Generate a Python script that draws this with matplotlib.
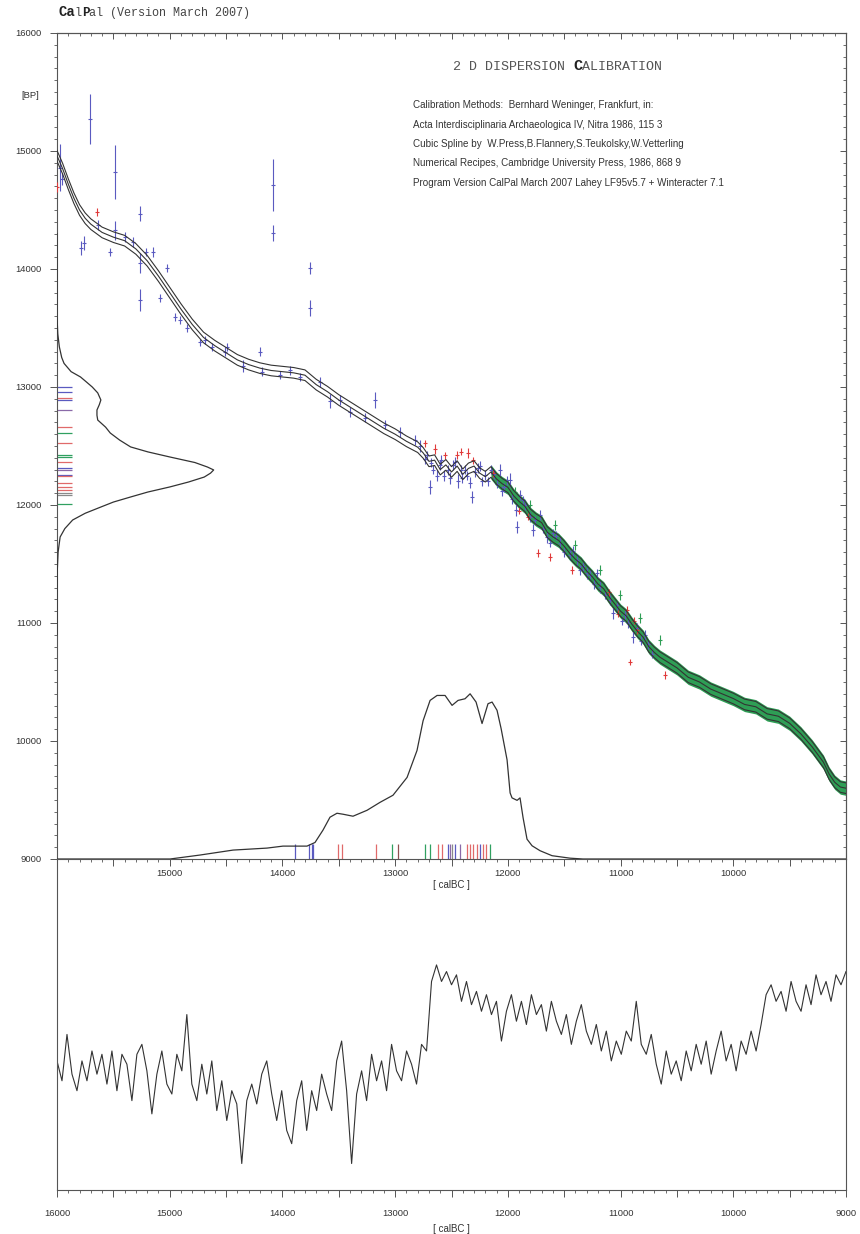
import numpy as np
import matplotlib
matplotlib.use("Agg")
import matplotlib.pyplot as plt
from matplotlib.ticker import MultipleLocator, FuncFormatter

plt.rcParams['font.family'] = ['Liberation Sans', 'DejaVu Sans']

# calibration curve: calBC -> 14C age BP
curve_bc = [16000, 15950, 15900, 15850, 15800, 15750, 15700, 15600, 15500, 15400,
            15300, 15200, 15100, 15000, 14900, 14800, 14700, 14600, 14500, 14400,
            14300, 14200, 14100, 14000, 13900, 13800, 13700, 13600, 13500, 13400,
            13300, 13200, 13100, 13000, 12900, 12800, 12750, 12700, 12650, 12600,
            12550, 12500, 12450, 12400, 12350, 12300, 12250, 12200, 12150, 12100,
            12050, 12000, 11950, 11900, 11850, 11800, 11750, 11700, 11650, 11600,
            11550, 11500, 11450, 11400, 11350, 11300, 11250, 11200, 11150, 11100,
            11050, 11000, 10950, 10900, 10850, 10800, 10750, 10700, 10650, 10600,
            10550, 10500, 10400, 10300, 10200, 10100, 10000, 9900, 9800, 9700,
            9600, 9500, 9400, 9300, 9200, 9150, 9100, 9050, 9000]
curve_bp = [14960, 14850, 14720, 14600, 14500, 14430, 14380, 14310, 14270, 14240,
            14170, 14070, 13940, 13800, 13660, 13530, 13420, 13350, 13290, 13230,
            13190, 13160, 13140, 13130, 13120, 13100, 13020, 12960, 12890, 12830,
            12770, 12710, 12650, 12600, 12540, 12490, 12440, 12370, 12380, 12300,
            12340, 12280, 12330, 12260, 12310, 12330, 12270, 12240, 12280, 12220,
            12180, 12150, 12080, 12030, 11990, 11920, 11880, 11850, 11770, 11730,
            11700, 11650, 11590, 11540, 11500, 11440, 11390, 11330, 11290, 11220,
            11160, 11100, 11060, 10990, 10930, 10880, 10800, 10750, 10710, 10680,
            10650, 10620, 10540, 10500, 10440, 10400, 10360, 10310, 10290, 10230,
            10210, 10150, 10060, 9950, 9820, 9720, 9650, 9610, 9600]
curve_sigma = 45

# calibration data (calBC, BP, 1 sigma)
blue_pts = [(15975, 14860, 200), (15955, 14760, 50), (15790, 14180, 60), (15760, 14220, 60),
            (15707, 15270, 210), (15640, 14373, 40), (15485, 14820, 230), (15485, 14330, 80),
            (15530, 14144, 30), (15397, 14271, 40), (15326, 14229, 40), (15264, 14050, 85),
            (15264, 13737, 90), (15264, 14470, 60), (15210, 14144, 30), (15148, 14144, 40),
            (15024, 14008, 35), (15086, 13754, 30), (14953, 13593, 30), (14909, 13568, 30),
            (14847, 13500, 30), (14731, 13381, 30), (14687, 13398, 30), (14625, 13339, 30),
            (14492, 13339, 30), (14509, 13300, 40), (14350, 13180, 50), (14200, 13300, 40),
            (14180, 13130, 40), (14083, 14712, 220), (14083, 14305, 70), (14021, 13100, 35),
            (13933, 13140, 35), (13844, 13085, 35), (13755, 14008, 50), (13755, 13669, 70),
            (13666, 13042, 40), (13578, 12880, 60), (13490, 12890, 40), (13400, 12790, 40),
            (13267, 12740, 40), (13180, 12890, 70), (13090, 12680, 40), (12957, 12620, 40),
            (12824, 12550, 40), (12780, 12500, 50), (12735, 12390, 40), (12690, 12152, 60),
            (12660, 12300, 40), (12602, 12339, 40), (12570, 12250, 50), (12531, 12296, 40),
            (12469, 12364, 40), (12440, 12200, 60), (12406, 12229, 40), (12380, 12300, 40),
            (12318, 12068, 50), (12264, 12313, 40), (12230, 12200, 40), (12202, 12254, 40),
            (12150, 12300, 40), (12100, 12180, 40), (12069, 12296, 50), (12030, 12150, 40),
            (11980, 12212, 60), (11918, 11813, 50), (11892, 12085, 40), (11847, 12000, 40),
            (11800, 11900, 40), (11776, 11788, 50), (11714, 11915, 40), (11652, 11729, 50),
            (11600, 11760, 40), (11537, 11678, 50), (11448, 11576, 40), (11386, 11534, 50),
            (11330, 11480, 40), (11297, 11424, 50), (11271, 11407, 40), (11182, 11305, 50),
            (11093, 11195, 40), (11067, 11085, 50), (10960, 11068, 40), (10889, 10881, 50),
            (10783, 10898, 40), (10720, 10740, 40),
            (12720, 12420, 40), (12680, 12360, 40), (12630, 12250, 50), (12590, 12380, 40),
            (12510, 12230, 50), (12490, 12340, 40), (12420, 12300, 40), (12360, 12250, 40),
            (12340, 12190, 50), (12290, 12280, 40), (12250, 12330, 40), (12180, 12200, 40),
            (12120, 12260, 40), (12050, 12120, 40), (12010, 12210, 40), (11960, 12050, 40),
            (11930, 11960, 50), (11870, 12040, 40), (11760, 11870, 40), (11690, 11800, 40),
            (11630, 11680, 40), (11570, 11740, 40), (11500, 11600, 40), (11420, 11610, 40),
            (11360, 11450, 40), (11240, 11330, 40), (11210, 11420, 40), (11140, 11240, 40),
            (11030, 11150, 40), (10990, 11020, 40), (10930, 11000, 40), (10850, 10960, 40),
            (10820, 10850, 40), (10760, 10820, 40)]
red_pts = [(16000, 14695, 40), (15645, 14483, 30), (12735, 12525, 30), (12646, 12474, 40),
           (12451, 12424, 30), (12353, 12441, 40), (12309, 12381, 30), (12131, 12271, 30),
           (11732, 11593, 30), (11626, 11559, 30), (11430, 11449, 30), (10942, 11110, 30),
           (10854, 10940, 30), (10916, 10669, 25), (10605, 10559, 30), (11900, 11950, 30),
           (11100, 11260, 30), (12560, 12420, 30), (12420, 12450, 30), (11820, 11900, 30),
           (11020, 11080, 30), (10880, 11020, 30)]
green_pts = [(11936, 12110, 40), (11803, 12000, 40), (11581, 11830, 40), (11404, 11661, 40),
             (11182, 11449, 40), (11004, 11237, 40), (10827, 11042, 40), (10649, 10856, 40)]
green_from = 12150  # dense dendro data from here on

# sample 14C ages (BP) and calibrated positions (calBC)
sample_bp = [13003, 12955, 12910, 12890, 12805, 12658, 12607, 12528, 12424, 12404, 12367,
             12311, 12297, 12254, 12246, 12184, 12156, 12127, 12105, 12085, 12006]
sample_bp_col = ['b', 'b', 'r', 'b', 'p', 'r', 'g', 'r', 'g', 'g', 'r',
                 'b', 'p', 'b', 'r', 'r', 'r', 'r', 'k', 'k', 'g']
sample_bc = [13888, 13764, 13737, 13728, 13507, 13471, 13170, 13027, 12974, 12735, 12690,
             12619, 12584, 12531, 12513, 12495, 12468, 12424, 12362, 12335, 12309, 12273,
             12247, 12220, 12193, 12158]
sample_bc_col = ['b', 'b', 'b', 'b', 'r', 'r', 'r', 'g', 'n', 'g', 'g',
                 'r', 'r', 'b', 'p', 'k', 'b', 'p', 'r', 'r', 'r', 'r',
                 'b', 'r', 'r', 'g']
palette = {'b': '#5a5ac0', 'r': '#e06a6a', 'g': '#30a060', 'p': '#8a6aa8',
           'k': '#8a8a8a', 'n': '#905050'}

# summed 14C probability (along BP axis)
dens_bp = [14300, 13600, 13450, 13340, 13250, 13200, 13130, 13085, 13040, 13000, 12950,
           12890, 12850, 12805, 12760, 12720, 12660, 12610, 12550, 12492, 12450, 12407,
           12360, 12322, 12297, 12270, 12237, 12195, 12153, 12110, 12068, 12025, 11983,
           11930, 11873, 11800, 11729, 11600, 11449, 11200, 10900]
dens_bp_val = [0.0, 0.0, 0.005, 0.015, 0.03, 0.045, 0.09, 0.15, 0.19, 0.225, 0.26,
               0.28, 0.27, 0.255, 0.255, 0.26, 0.31, 0.34, 0.40, 0.47, 0.58, 0.72,
               0.88, 0.96, 1.0, 0.98, 0.94, 0.84, 0.72, 0.58, 0.47, 0.36, 0.28,
               0.18, 0.10, 0.05, 0.02, 0.007, 0.002, 0.0, 0.0]
# calibrated probability (along calBC axis)
dens_bc = [16000, 14997, 14731, 14438, 14137, 13995, 13782, 13711, 13640, 13578, 13516,
           13462, 13374, 13249, 13134, 13019, 12894, 12806, 12752, 12690, 12628, 12557,
           12495, 12442, 12380, 12335, 12282, 12229, 12176, 12140, 12096, 12060, 12007,
           11980, 11963, 11918, 11892, 11865, 11830, 11785, 11714, 11608, 11448, 11333, 9000]
dens_bc_val = [0.0, 0.0, 0.024, 0.054, 0.066, 0.078, 0.078, 0.10, 0.175, 0.253, 0.277,
               0.271, 0.259, 0.295, 0.343, 0.386, 0.494, 0.657, 0.837, 0.96, 0.99, 0.99,
               0.93, 0.96, 0.97, 1.0, 0.95, 0.82, 0.94, 0.95, 0.90, 0.79, 0.60,
               0.40, 0.37, 0.355, 0.37, 0.25, 0.12, 0.08, 0.05, 0.02, 0.005, 0.0, 0.0]

# lower panel signal (arbitrary units), evenly spaced 16000 -> 9000 calBC
signal = [39, 33, 47, 35, 30, 39, 33, 42, 35, 41, 32, 42, 30, 41, 38, 27, 41, 44, 36, 23,
          35, 42, 32, 29, 41, 36, 53, 32, 27, 38, 29, 39, 24, 33, 21, 30, 26, 8, 27, 32,
          26, 35, 39, 29, 21, 30, 18, 14, 27, 33, 18, 30, 24, 35, 29, 24, 39, 45, 30, 8,
          29, 36, 27, 41, 33, 39, 30, 44, 36, 33, 42, 38, 32, 44, 42, 63, 68, 63, 66, 62,
          65, 57, 63, 56, 60, 54, 59, 53, 57, 45, 54, 59, 51, 57, 50, 59, 53, 56, 48, 57,
          51, 47, 53, 44, 51, 56, 48, 44, 50, 42, 48, 39, 45, 41, 48, 45, 57, 44, 41, 47,
          38, 32, 42, 35, 39, 33, 42, 36, 44, 38, 45, 35, 42, 48, 39, 44, 36, 45, 41, 48,
          42, 50, 59, 62, 57, 60, 54, 63, 57, 54, 62, 56, 65, 59, 63, 57, 65, 62, 66]
signal_bc = np.linspace(16000, 9000, len(signal))

line_col = '#333333'
axis_col = '#555555'
text_col = '#333333'

fig = plt.figure(figsize=(8.6, 12.34), dpi=100)
W, H = 860, 1234
ax2 = fig.add_axes([57 / W, 1 - 1190 / H, 789 / W, 331 / H])
ax = fig.add_axes([57 / W, 1 - 859 / H, 789 / W, 826 / H])
ax.set_facecolor('none')
ax2.set_facecolor('none')

cbc = np.array(curve_bc)
cbp = np.array(curve_bp)
ax.fill_between(cbc, cbp - 1.35 * curve_sigma, cbp + 1.35 * curve_sigma,
                where=cbc <= green_from, color='#2e9e55', lw=0, zorder=2)
for pts, col in [(blue_pts, palette['b']), (red_pts, '#e03a3a'), (green_pts, '#2e9e55')]:
    a = np.array(pts, dtype=float)
    ax.errorbar(a[:, 0], a[:, 1], yerr=a[:, 2], fmt='_', ms=3, mew=0.8,
                color=col, ecolor=col, elinewidth=0.8, capsize=0, zorder=3)
for off in (-curve_sigma, 0, curve_sigma):
    ax.plot(cbc, cbp + off, color=line_col, lw=0.8, zorder=4)

# probability curves
ax.plot(16000 - np.array(dens_bp_val) * 1390, dens_bp, color=line_col, lw=0.9, zorder=4)
ax.plot(dens_bc, 9000 + np.array(dens_bc_val) * 1400, color=line_col, lw=0.9, zorder=4)
ax.hlines(sample_bp, 16000, 16000 - 135, colors=[palette[c] for c in sample_bp_col], lw=0.9)
ax.vlines(sample_bc, 9000, 9130, colors=[palette[c] for c in sample_bc_col], lw=0.9)

ax.set_xlim(16000, 9000)
ax.set_ylim(9000, 16000)
ax.xaxis.set_major_locator(MultipleLocator(500))
ax.xaxis.set_minor_locator(MultipleLocator(100))
ax.xaxis.set_major_formatter(FuncFormatter(
    lambda v, p: f"{int(v)}" if v % 1000 == 0 and 9000 < v < 16000 else ""))
ax.yaxis.set_major_locator(MultipleLocator(1000))
ax.yaxis.set_minor_locator(MultipleLocator(100))
ax.tick_params(axis='both', which='major', length=5, width=0.7, color=axis_col,
               labelsize=6.8, labelcolor=text_col)
ax.tick_params(axis='both', which='minor', length=2.5, width=0.6, color=axis_col)
ax.tick_params(axis='x', direction='out', pad=2.5)
ax.tick_params(axis='y', direction='out', pad=6)
for side in ('top', 'right'):
    sec = ax.secondary_xaxis('top') if side == 'top' else ax.secondary_yaxis('right')
    axis = sec.xaxis if side == 'top' else sec.yaxis
    axis.set_major_locator(MultipleLocator(500 if side == 'top' else 1000))
    axis.set_minor_locator(MultipleLocator(100))
    sec.tick_params(which='major', direction='in', length=4, width=0.7, color=axis_col,
                    labeltop=False, labelright=False)
    sec.tick_params(which='minor', direction='in', length=2.5, width=0.6, color=axis_col)
    sec.spines[side].set_color(axis_col)
for s in ax.spines.values():
    s.set_color(axis_col)
    s.set_linewidth(0.8)
ax.set_xlabel('[ calBC ]', fontsize=7, color=text_col, labelpad=1)
fig.text(30 / W, 1 - 95 / H, '[BP]', fontsize=6.8, color=text_col, ha='center', va='center')

# lower panel
ax2.plot(signal_bc, signal, color=line_col, lw=0.8)
ax2.set_xlim(16000, 9000)
ax2.set_ylim(0, 100)
ax2.xaxis.set_major_locator(MultipleLocator(500))
ax2.xaxis.set_minor_locator(MultipleLocator(100))
ax2.xaxis.set_major_formatter(FuncFormatter(lambda v, p: f"{int(v)}" if v % 1000 == 0 else ""))
ax2.set_yticks([])
ax2.tick_params(axis='x', which='major', direction='out', length=5, width=0.7, color=axis_col,
                labelsize=6.8, labelcolor=text_col, pad=9)
ax2.tick_params(axis='x', which='minor', direction='out', length=2.5, width=0.6, color=axis_col)
ax2.spines['top'].set_visible(False)
for s in ('left', 'right', 'bottom'):
    ax2.spines[s].set_color(axis_col)
    ax2.spines[s].set_linewidth(0.8)
ax2.set_xlabel('[ calBC ]', fontsize=7, color=text_col, labelpad=4)

# header texts
mono = 'Liberation Mono'
t = fig.text(58 / W, 1 - 16 / H, 'Ca', family=mono, fontweight='bold', fontsize=10,
             color='#222222', va='baseline')
for s, bold, size in [('l', False, 8.5), ('P', True, 9), ('al (Version March 2007)', False, 8.5)]:
    t = ax.annotate(s, xy=(1, 0), xycoords=t, va='bottom', ha='left', family=mono,
                    fontsize=size, fontweight='bold' if bold else 'normal',
                    color='#444444' if not bold else '#222222', annotation_clip=False)

t = fig.text(453 / W, 1 - 67 / H, '2 D DISPERSION ', family=mono, fontsize=9.6,
             color='#555555', va='center')
t = ax.annotate('C', xy=(1, 0), xycoords=t, va='bottom', ha='left', family=mono,
                fontsize=11, fontweight='bold', color='#222222', annotation_clip=False)
t = ax.annotate('ALIBRATION', xy=(1, 0), xycoords=t, va='bottom', ha='left', family=mono,
                fontsize=9.6, color='#555555', annotation_clip=False)

info = ['Calibration Methods:  Bernhard Weninger, Frankfurt, in:',
        'Acta Interdisciplinaria Archaeologica IV, Nitra 1986, 115 3',
        'Cubic Spline by  W.Press,B.Flannery,S.Teukolsky,W.Vetterling',
        'Numerical Recipes, Cambridge University Press, 1986, 868 9',
        'Program Version CalPal March 2007 Lahey LF95v5.7 + Winteracter 7.1']
for i, line in enumerate(info):
    fig.text(413 / W, 1 - (105 + 19.5 * i) / H, line, fontsize=7.1, color=text_col,
             va='center', ha='left')

fig.savefig('out.png', dpi=100)
